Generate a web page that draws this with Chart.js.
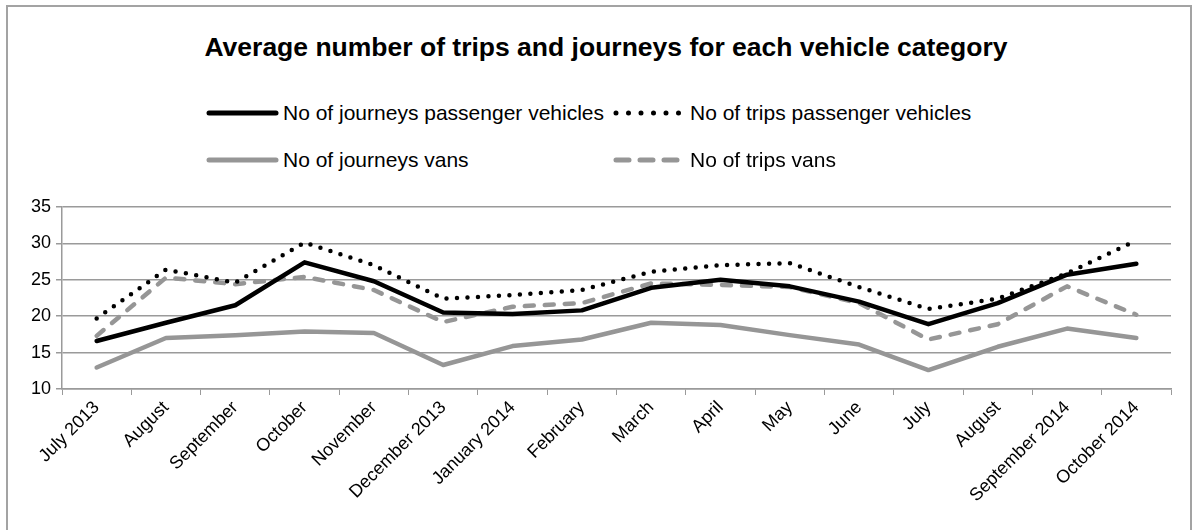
<!DOCTYPE html>
<html>
<head>
    <title>Average number of trips and journeys for each vehicle category</title>
    <meta charset="utf-8">
    <style>
        html, body {
            margin: 0;
            padding: 0;
            background: #fff;
            font-family: "Liberation Sans", Arial, sans-serif;
            overflow: hidden;
        }
        .frame {
            position: absolute;
            left: 6px;
            top: 5px;
            width: 1182px;
            height: 600px;
            border: 2px solid #a3a3a3;
        }
        .chart-title {
            position: absolute;
            left: 0;
            width: 1212px;
            top: 32px;
            text-align: center;
            font-size: 26.5px;
            font-weight: bold;
            color: #000;
        }
        .legend-item {
            position: absolute;
            display: flex;
            align-items: center;
            font-size: 21px;
            color: #000;
            white-space: nowrap;
        }
        .legend-item canvas {
            margin-right: 4px;
        }
        #chart-wrap {
            position: absolute;
            left: 0;
            top: 0;
            width: 1196px;
            height: 530px;
        }
    </style>
</head>
<body>
    <div class="frame"></div>
    <div class="chart-title">Average number of trips and journeys for each vehicle category</div>
    <div id="legend"></div>
    <div id="chart-wrap">
        <canvas id="trips-chart"></canvas>
    </div>

    <script src="https://cdn.jsdelivr.net/npm/chart.js"></script>
    <script>
        // months on the x axis
        const months = ["July 2013", "August", "September", "October", "November", "December 2013",
            "January 2014", "February", "March", "April", "May", "June", "July", "August",
            "September 2014", "October 2014"];

        // values
        const journeysPassenger = [16.6, 19.1, 21.5, 27.4, 24.8, 20.5, 20.3, 20.8, 23.9, 25.0, 24.1, 22.0, 18.9, 21.8, 25.7, 27.2];
        const tripsPassenger = [19.7, 26.4, 24.6, 30.1, 27.0, 22.4, 22.9, 23.6, 26.1, 27.0, 27.3, 24.0, 21.0, 22.4, 25.9, 30.4];
        const journeysVans = [12.95, 17.0, 17.4, 17.9, 17.7, 13.3, 15.9, 16.8, 19.1, 18.8, 17.4, 16.1, 12.6, 15.8, 18.3, 17.0];
        const tripsVans = [17.3, 25.3, 24.4, 25.4, 23.6, 19.2, 21.3, 21.8, 24.5, 24.3, 24.0, 21.8, 16.8, 18.9, 24.1, 20.2];

        const yTicks = [10, 15, 20, 25, 30, 35];

        const black = "#000000";
        const grey = "#969696";

        const datasets = [
            { label: "No of journeys passenger vehicles", data: journeysPassenger, borderColor: black, borderDash: [] },
            { label: "No of trips passenger vehicles", data: tripsPassenger, borderColor: black, borderDash: [0, 10.5] },
            { label: "No of journeys vans", data: journeysVans, borderColor: grey, borderDash: [] },
            { label: "No of trips vans", data: tripsVans, borderColor: grey, borderDash: [9, 11] },
        ].map(d => Object.assign(d, {
            borderWidth: 4.5,
            borderCapStyle: "round",
            borderJoinStyle: "round",
            pointRadius: 0,
            tension: 0,
            fill: false,
        }));

        const ctx = document.getElementById("trips-chart").getContext("2d");
        const chart = new Chart(ctx, {
            type: "line",
            data: { labels: months, datasets: datasets },
            options: {
                responsive: true,
                maintainAspectRatio: false,
                animation: false,
                layout: { padding: { top: 207, right: 25, left: 0, bottom: 0 } },
                plugins: {
                    legend: { display: false },
                    title: { display: false },
                    tooltip: { enabled: false },
                },
                scales: {
                    x: {
                        offset: true,
                        afterFit: s => { s.height = 141; },
                        grid: {
                            offset: true,
                            drawOnChartArea: false,
                            drawTicks: true,
                            tickLength: 6,
                            color: "#9a9a9a",
                        },
                        border: { color: "#9a9a9a", width: 1.5 },
                        ticks: {
                            color: "#000",
                            minRotation: 45,
                            maxRotation: 45,
                            autoSkip: false,
                            padding: 2,
                            font: { family: "'Liberation Sans', Arial", size: 18 },
                        },
                    },
                    y: {
                        min: yTicks[0],
                        max: yTicks[yTicks.length - 1],
                        afterFit: s => { s.width = 62; },
                        afterBuildTicks: s => { s.ticks = yTicks.map(v => ({ value: v })); },
                        grid: {
                            color: "#9a9a9a",
                            lineWidth: 1.5,
                            tickLength: 6,
                        },
                        border: { color: "#9a9a9a", width: 1.5 },
                        ticks: {
                            color: "#000",
                            padding: 5,
                            font: { family: "'Liberation Sans', Arial", size: 18 },
                        },
                    },
                },
            },
        });

        // html legend in two columns like the original
        const legendPos = [[205, 113], [612, 113], [205, 160], [612, 160]];
        const legendEl = document.getElementById("legend");
        chart.data.datasets.forEach((ds, i) => {
            const item = document.createElement("div");
            item.className = "legend-item";
            item.style.left = legendPos[i][0] + "px";
            item.style.top = (legendPos[i][1] - 13) + "px";
            item.style.height = "26px";
            const sw = document.createElement("canvas");
            sw.width = 74;
            sw.height = 10;
            const c = sw.getContext("2d");
            c.strokeStyle = ds.borderColor;
            c.lineWidth = 5;
            c.lineCap = "round";
            c.setLineDash(ds.borderDash.length ? (ds.borderDash[0] === 0 ? [0, 12.5] : [13, 11]) : []);
            c.beginPath();
            c.moveTo(4, 5);
            c.lineTo(71, 5);
            c.stroke();
            item.appendChild(sw);
            const span = document.createElement("span");
            span.textContent = ds.label;
            item.appendChild(span);
            legendEl.appendChild(item);
        });
    </script>
</body>
</html>
